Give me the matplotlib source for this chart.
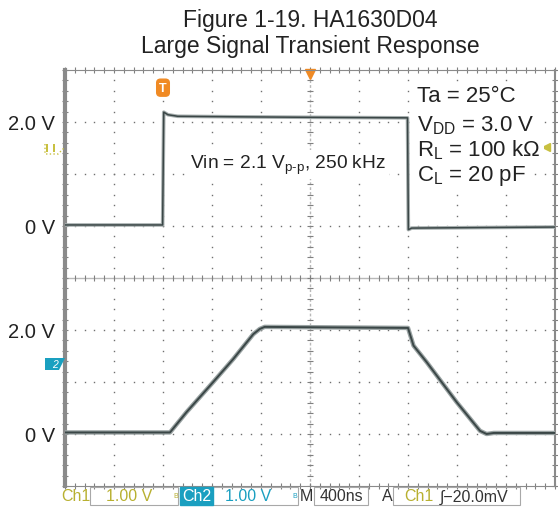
import numpy as np
import matplotlib
matplotlib.use("Agg")
import matplotlib.pyplot as plt
from matplotlib.patches import Rectangle, Polygon

plt.rcParams['font.family'] = ['Liberation Sans', 'DejaVu Sans']
plt.rcParams['mathtext.fontset'] = 'custom'
plt.rcParams['mathtext.rm'] = 'Liberation Sans'
plt.rcParams['mathtext.it'] = 'Liberation Sans:italic'

# time in ns (trigger at 0), 400 ns/div
ch1_t = [-800, -3, 6, 40, 120, 600, 1200, 1996, 2003, 2030, 2600, 3200]
ch1_v = [0.02, 0.02, 2.19, 2.14, 2.11, 2.10, 2.09, 2.08, -0.07, -0.04, -0.03, -0.02]

ch2_t = [-800, 57, 192, 410, 573, 737, 790, 830, 1400, 2000, 2045, 2153, 2398, 2588, 2642, 2700, 3200]
ch2_v = [0.03, 0.03, 0.42, 1.00, 1.44, 1.92, 2.02, 2.06, 2.05, 2.04, 1.70, 1.38, 0.61, 0.06, 0.00, 0.02, 0.02]

ch1_offset = 1.0   # divisions
ch2_offset = -3.0
ytick_div = [3, 1, -1, -3]
ytick_lbl = ['2.0 V', '0 V', '2.0 V', '0 V']

W, H = 558, 510
fig = plt.figure(figsize=(W / 100, H / 100), dpi=100)
ax = fig.add_axes([65 / W, (H - 487) / H, 490 / W, 416 / H])
ax.set_xlim(-800, 3200)
ax.set_ylim(-4, 4)

# grid of dots
grid_c = '#707070'
xs_minor = np.arange(-800, 3201, 80)
ys_minor = np.arange(-4, 4.01, 0.2)
for gy in np.arange(-3, 4, 1):
    if gy == 0:
        continue
    ax.plot(xs_minor, np.full(len(xs_minor), gy), ls='none', marker='s', ms=1.0, color=grid_c, mec='none')
for gx in np.arange(-400, 3200, 400):
    if gx == 1200:
        continue
    ax.plot(np.full(len(ys_minor), gx), ys_minor, ls='none', marker='s', ms=1.0, color=grid_c, mec='none')

# center cross with ticks
ax.axhline(0, color='#b8b8b8', lw=1.0)
ax.axvline(1200, color='#b8b8b8', lw=1.0, ls=(0, (2, 1.5)))
ax.plot(xs_minor, np.zeros(len(xs_minor)), ls='none', marker='|', ms=5, color='#808080', mew=0.8)
ax.plot(np.full(len(ys_minor), 1200), ys_minor, ls='none', marker='_', ms=5, color='#808080', mew=0.8)
# edge ticks
ax.plot(xs_minor, np.full(len(xs_minor), 4), ls='none', marker='|', ms=5, color='#808080', mew=0.8, clip_on=False)
ax.plot(xs_minor, np.full(len(xs_minor), -4), ls='none', marker='|', ms=5, color='#808080', mew=0.8, clip_on=False)
ax.plot(np.full(len(ys_minor), -800), ys_minor, ls='none', marker='_', ms=5, color='#808080', mew=0.8, clip_on=False)
ax.plot(np.full(len(ys_minor), 3200), ys_minor, ls='none', marker='_', ms=5, color='#808080', mew=0.8, clip_on=False)

# traces
t1 = np.array(ch1_t)
y1 = np.array(ch1_v) + ch1_offset
t2 = np.array(ch2_t)
y2 = np.array(ch2_v) + ch2_offset
ax.plot(t1, y1, color='#a7afaf', lw=2.6, zorder=4)
ax.plot(t1, y1, color='#3b4747', lw=1.1, zorder=4)
ax.plot(t2, y2, color='#9aa3a3', lw=3.2, zorder=4)
ax.plot(t2, y2, color='#3b4747', lw=1.4, zorder=4)

for s in ax.spines.values():
    s.set_color('#8a8a8a')
ax.spines['left'].set_linewidth(3)
ax.spines['top'].set_linewidth(0.8)
ax.spines['bottom'].set_linewidth(0.8)
ax.spines['right'].set_linewidth(1.5)

ax.set_xticks([])
ax.set_yticks(ytick_div)
ax.set_yticklabels(ytick_lbl, fontsize=14.5, color='#222222')
ax.tick_params(axis='y', length=0, pad=7)

# annotations (white background hides the grid dots)
wb = dict(boxstyle='square,pad=0.15', fc='white', ec='none')
ax.text(220, 2.19, r'Vin = 2.1 V$_{\mathrm{p\text{-}p}}$, 250 kHz', fontsize=13.8, va='center',
        color='#222222', bbox=wb, zorder=3)
ax.text(2075, 3.5, 'Ta = 25\u00b0C', fontsize=16, va='center', color='#222222', bbox=wb, zorder=3)
ax.text(2075, 2.95, r'V$_{\mathrm{DD}}$ = 3.0 V', fontsize=16, va='center', color='#222222', bbox=wb, zorder=3)
ax.text(2075, 2.48, r'R$_{\mathrm{L}}$ = 100 k$\Omega$', fontsize=16, va='center', color='#222222', bbox=wb, zorder=3)
ax.text(2075, 1.98, r'C$_{\mathrm{L}}$ = 20 pF', fontsize=16, va='center', color='#222222', bbox=wb, zorder=3)

# scope markers
orange = '#f08a24'
ax.text(0, 3.66, 'T', color='white', fontsize=9, fontweight='bold', ha='center', va='center',
        bbox=dict(boxstyle='round,pad=0.2,rounding_size=0.3', fc=orange, ec=orange), zorder=5)
ax.plot([1200], [3.93], marker='v', ms=7, color=orange, clip_on=False)
ax.plot([3125], [2.52], marker='<', ms=6, color='#c8c040', clip_on=False)


def px(x, y):
    return (x / W, 1 - y / H)


fig.add_artist(Polygon([px(45, 145), px(45, 155), px(58, 155), px(65, 148)], closed=False,
                       transform=fig.transFigure, fill=False, ec='#c8c040', lw=1.0, ls=':'))
fig.add_artist(Rectangle(px(46, 153), 2 / W, 8 / H, transform=fig.transFigure, fc='#c8c040', ec='none'))
fig.add_artist(Rectangle(px(53, 153), 2 / W, 8 / H, transform=fig.transFigure, fc='#c8c040', ec='none'))
fig.add_artist(Polygon([px(45, 359), px(65, 359), px(59, 371), px(45, 371)], closed=True,
                       transform=fig.transFigure, fc='#1aa0c0', ec='none'))
fig.text(55 / W, 1 - 365 / H, '2', color='white', fontsize=7.5, ha='center', va='center', style='italic')

# title
fig.text(310 / W, 1 - 20 / H, 'Figure 1-19. HA1630D04', fontsize=16.5, ha='center', va='center', color='#222222')
fig.text(310 / W, 1 - 47 / H, 'Large Signal Transient Response', fontsize=16.5, ha='center', va='center', color='#222222')

# status bar
yel = '#b8b030'
cyan = '#1a9fc0'
yb = 1 - 497 / H


def box(x0, x1):
    fig.add_artist(Rectangle((x0 / W, 1 - 506 / H), (x1 - x0) / W, 18 / H, transform=fig.transFigure,
                             fill=False, ec='#a8a8a8', lw=0.8))


box(90, 178)
box(210, 298)
box(314, 368)
box(393, 520)
fs = 11.5
fig.text(61 / W, yb, 'Ch1', color=yel, fontsize=fs, va='center')
fig.text(129 / W, yb, '1.00 V', color=yel, fontsize=fs, va='center', ha='center')
fig.text(173 / W, yb, 'B', color=yel, fontsize=5, va='center')
fig.text(182 / W, yb, 'Ch2', color='white', fontsize=fs, va='center',
         bbox=dict(boxstyle='square,pad=0.1', fc=cyan, ec=cyan))
fig.text(248 / W, yb, '1.00 V', color=cyan, fontsize=fs, va='center', ha='center')
fig.text(292 / W, yb, 'B', color=cyan, fontsize=5, va='center')
fig.text(300 / W, yb, 'M', color='#333333', fontsize=fs, va='center')
fig.text(341 / W, yb, '400ns', color='#333333', fontsize=fs, va='center', ha='center')
fig.text(382 / W, yb, 'A', color='#333333', fontsize=fs, va='center')
fig.text(404 / W, yb, 'Ch1', color=yel, fontsize=fs, va='center')
fig.text(440 / W, yb, '\u222b\u221220.0mV', color='#333333', fontsize=fs, va='center')

fig.savefig('out.png', dpi=100)
